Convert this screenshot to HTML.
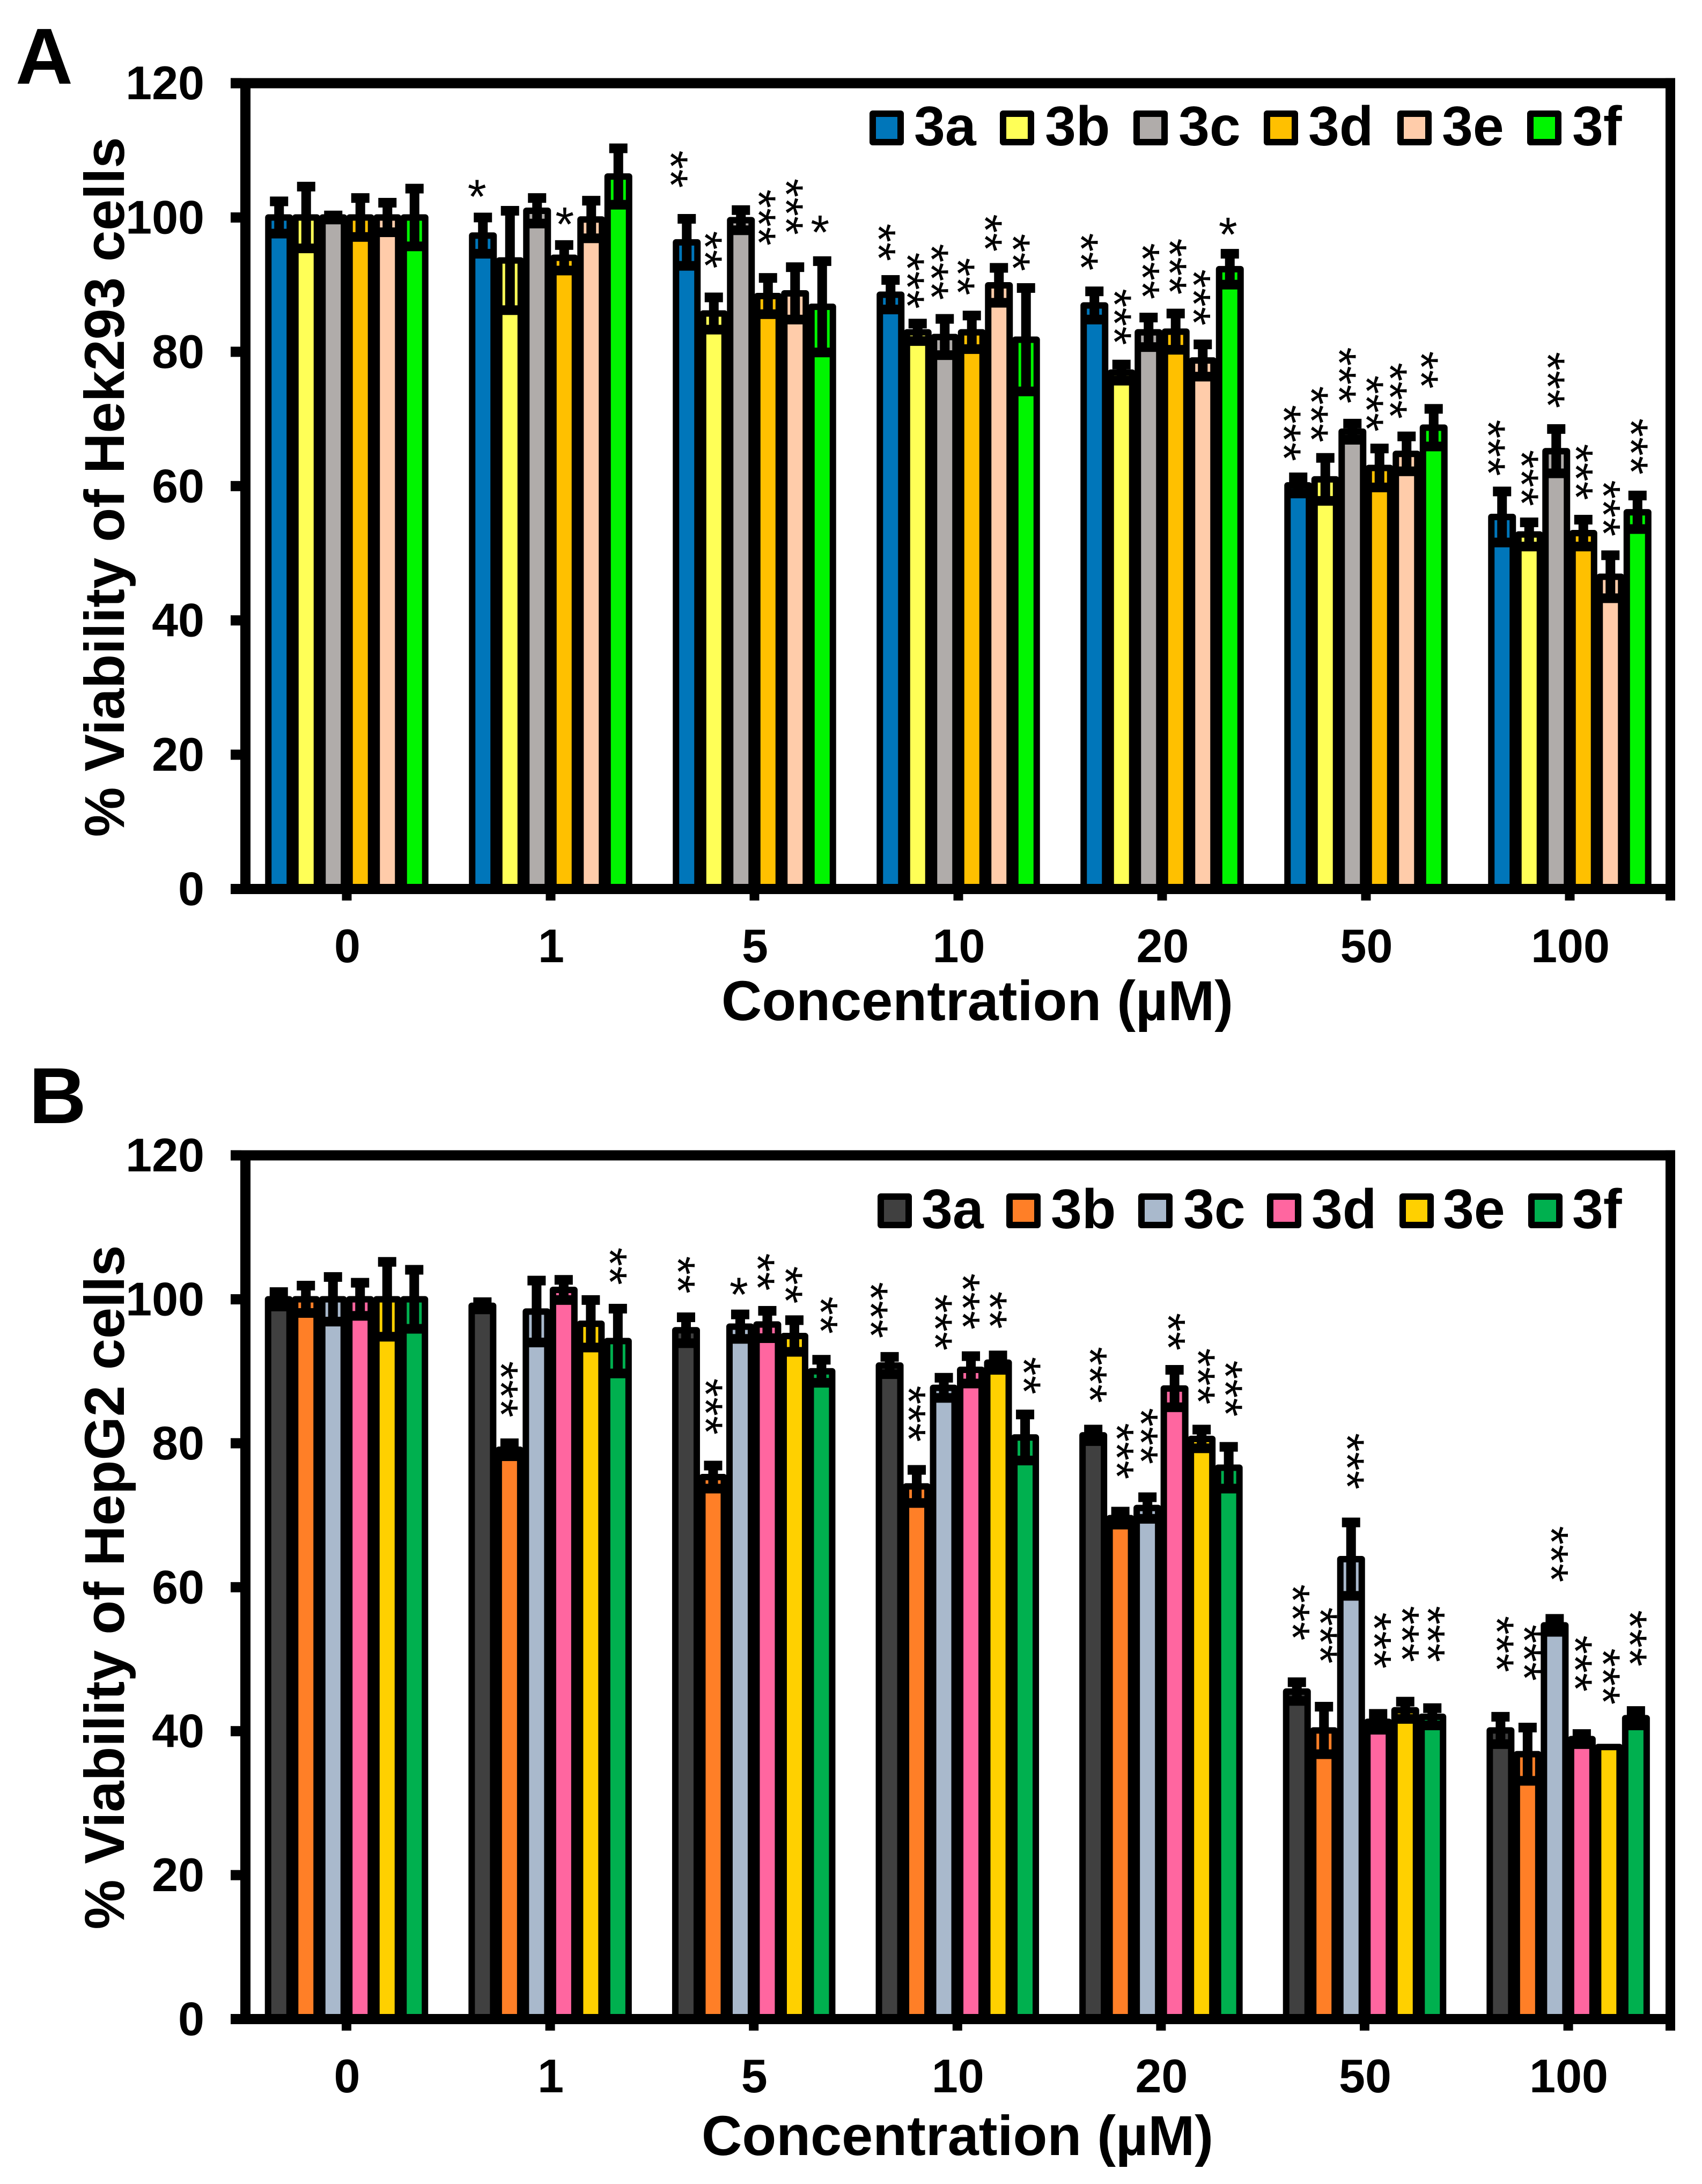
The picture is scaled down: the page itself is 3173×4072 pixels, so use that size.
<!DOCTYPE html>
<html lang="en">
<head>
<meta charset="utf-8">
<title>Cell viability of Hek293 and HepG2 cells</title>
<style>
html,body{margin:0;padding:0;background:#fff;}
svg{display:block;}
text{font-family:"Liberation Sans",Arial,sans-serif;fill:#000;}
.b{font-weight:700;}
.title{font-weight:700;font-size:104.5px;}
.legend-label{font-weight:700;font-size:104px;}
.letter{font-weight:700;font-size:148px;}
</style>
</head>
<body>
<svg id="figure" xmlns="http://www.w3.org/2000/svg" width="3173" height="4072" viewBox="0 0 3173 4072">
<rect x="0" y="0" width="3173" height="4072" fill="#fff"/>
<g id="panelA"></g>
<g id="panelB"></g>

<text class="letter" x="29" y="156">A</text>
<text class="letter" x="54" y="2094">B</text>

<text class="title" text-anchor="middle" transform="translate(231,908) rotate(-90)">% Viability of Hek293 cells</text>
<text class="title" text-anchor="middle" transform="translate(231,2959.5) rotate(-90)">% Viability of HepG2 cells</text>
<text class="title" text-anchor="middle" x="1822" y="1902">Concentration (µM)</text>
<text class="title" text-anchor="middle" x="1785" y="4018">Concentration (µM)</text>

<g stroke-linejoin="round">
<rect x="1627" y="212" width="52" height="53" fill="#0076BA" stroke="#000" stroke-width="12"/>
<text class="legend-label" x="1704" y="271">3a</text>
<rect x="1870" y="212" width="52" height="53" fill="#FFFF57" stroke="#000" stroke-width="12"/>
<text class="legend-label" x="1948" y="271">3b</text>
<rect x="2119" y="212" width="52" height="53" fill="#B0ACAA" stroke="#000" stroke-width="12"/>
<text class="legend-label" x="2197" y="271">3c</text>
<rect x="2362" y="212" width="52" height="53" fill="#FFC000" stroke="#000" stroke-width="12"/>
<text class="legend-label" x="2439" y="271">3d</text>
<rect x="2611" y="212" width="52" height="53" fill="#FFCCAA" stroke="#000" stroke-width="12"/>
<text class="legend-label" x="2688" y="271">3e</text>
<rect x="2853" y="212" width="52" height="53" fill="#00F500" stroke="#000" stroke-width="12"/>
<text class="legend-label" x="2931" y="271">3f</text>
</g>

<g stroke-linejoin="round">
<rect x="1642" y="2231" width="52" height="53" fill="#404040" stroke="#000" stroke-width="12"/>
<text class="legend-label" x="1718" y="2290">3a</text>
<rect x="1882" y="2231" width="52" height="53" fill="#FF7F27" stroke="#000" stroke-width="12"/>
<text class="legend-label" x="1959" y="2290">3b</text>
<rect x="2128" y="2231" width="52" height="53" fill="#A9B9CC" stroke="#000" stroke-width="12"/>
<text class="legend-label" x="2206" y="2290">3c</text>
<rect x="2368" y="2231" width="52" height="53" fill="#FF66A0" stroke="#000" stroke-width="12"/>
<text class="legend-label" x="2445" y="2290">3d</text>
<rect x="2615" y="2231" width="52" height="53" fill="#FFD000" stroke="#000" stroke-width="12"/>
<text class="legend-label" x="2690" y="2290">3e</text>
<rect x="2855" y="2231" width="52" height="53" fill="#00B04F" stroke="#000" stroke-width="12"/>
<text class="legend-label" x="2931" y="2290">3f</text>
</g>
</svg>

<script>
// Shared categories and ticks
const concentrations = ["0", "1", "5", "10", "20", "50", "100"];
const seriesNames = ["3a", "3b", "3c", "3d", "3e", "3f"];
const yTicks = [0, 20, 40, 60, 80, 100, 120];

// Panel A: Hek293 mean viability per compound
const hek3a = [100, 97.3, 96.3, 88.5, 86.9, 60.1, 55.4];
const hek3b = [100, 93.6, 85.7, 82.9, 76.9, 61, 52.8];
const hek3c = [100, 101, 99.6, 82.2, 82.9, 68.1, 65.2];
const hek3d = [100, 94, 88.3, 82.9, 83, 62.7, 53];
const hek3e = [100, 99.7, 88.7, 89.9, 78.7, 64.8, 46.5];
const hek3f = [100, 106.1, 86.7, 81.8, 92.3, 68.7, 56.1];

// Panel A: error values
const hek3aErr = [2.4, 2.7, 3.5, 2.2, 2.1, 1.2, 3.8];
const hek3bErr = [4.6, 7.4, 2.4, 1.3, 1.2, 3.2, 1.8];
const hek3cErr = [0.3, 1.9, 1.5, 2.7, 2.2, 1.2, 3.3];
const hek3dErr = [2.9, 1.9, 2.7, 2.5, 2.7, 2.9, 2];
const hek3eErr = [2.2, 2.8, 3.9, 2.6, 2.4, 2.6, 3.2];
const hek3fErr = [4.3, 4.2, 6.8, 7.7, 2.3, 2.8, 2.5];

// Panel A: number of significance asterisks
const hek3aStars = [0, 1, 2, 2, 2, 3, 3];
const hek3bStars = [0, 0, 2, 3, 3, 3, 3];
const hek3cStars = [0, 0, 0, 3, 3, 3, 3];
const hek3dStars = [0, 1, 3, 2, 3, 3, 3];
const hek3eStars = [0, 0, 3, 2, 3, 3, 3];
const hek3fStars = [0, 0, 1, 2, 1, 2, 3];

// Panel A: asterisk height above the error bar, in % viability units
const hek3aLift = [0, 4.3, 7.4, 5.6, 5.9, 6.6, 6.5];
const hek3bLift = [0, 0, 7.1, 6.4, 7.1, 6.5, 6.6];
const hek3cLift = [0, 0, 0, 7, 6.9, 7.2, 7.3];
const hek3dLift = [0, 4.3, 9, 5.8, 7, 6.7, 7.1];
const hek3eLift = [0, 0, 9, 5.2, 7, 6.8, 7];
const hek3fLift = [0, 0, 5.5, 5.3, 4.1, 5.8, 7.3];

// Panel A: sideways asterisk nudge, in fractions of a bar
const hek3aNudge = [0, -0.22, -0.3, -0.15, -0.2, -0.24, -0.22];
const hek3bNudge = [0, 0, -0.03, -0.09, 0.03, -0.23, 0.01];
const hek3cNudge = [0, 0, 0, -0.2, 0.07, -0.2, -0.02];
const hek3dNudge = [0, 0.02, -0.05, -0.23, 0.07, -0.19, 0.02];
const hek3eNudge = [0, 0, -0.04, -0.22, -0.05, -0.32, 0.03];
const hek3fNudge = [0, 0, -0.08, -0.19, -0.07, -0.17, 0.05];

// Panel B: HepG2 mean viability per compound
const hep3a = [100, 99.1, 95.7, 90.8, 81.1, 45.5, 40.1];
const hep3b = [100, 79.1, 75.3, 74, 69.6, 40.1, 36.8];
const hep3c = [100, 98.3, 96.2, 87.7, 71, 63.9, 54.7];
const hep3d = [100, 101.3, 96.5, 90.2, 87.6, 41.3, 38.9];
const hep3e = [100, 96.6, 94.9, 91.2, 80.6, 42.9, 37.8];
const hep3f = [100, 94.2, 90, 80.8, 76.6, 42, 41.8];

// Panel B: error values
const hep3aErr = [1, 0.5, 1.8, 1.2, 0.8, 1.3, 1.9];
const hep3bErr = [1.9, 0.9, 1.6, 2.3, 0.9, 3.3, 3.7];
const hep3cErr = [3.1, 4.3, 1.7, 1.4, 1.5, 5.1, 0.9];
const hep3dErr = [2.3, 1.4, 1.9, 1.9, 2.6, 1.1, 0.7];
const hep3eErr = [5.2, 3.3, 2.2, 1, 1.3, 1.2, 0];
const hep3fErr = [4.1, 4.5, 1.6, 3.2, 2.9, 1.2, 1];

// Panel B: number of significance asterisks
const hep3aStars = [0, 0, 2, 3, 3, 3, 3];
const hep3bStars = [0, 3, 3, 3, 3, 3, 3];
const hep3cStars = [0, 0, 1, 3, 3, 3, 3];
const hep3dStars = [0, 0, 2, 3, 2, 3, 3];
const hep3eStars = [0, 0, 2, 2, 3, 3, 3];
const hep3fStars = [0, 2, 2, 2, 3, 3, 3];

// Panel B: asterisk height above the error bar, in % viability units
const hep3aLift = [0, 0, 5.9, 6.5, 7.6, 9.7, 10.1];
const hep3bLift = [0, 7.5, 8.2, 7.8, 8.4, 9.9, 10.4];
const hep3cLift = [0, 0, 3.9, 7.7, 8.5, 8.5, 9];
const hep3dLift = [0, 0, 5.4, 7.6, 5.3, 10.2, 9.8];
const hep3eLift = [0, 0, 4.9, 6.3, 7.4, 9.4, 9.8];
const hep3fLift = [0, 5.9, 6.2, 5.4, 8.1, 10.3, 10.1];

// Panel B: sideways asterisk nudge, in fractions of a bar
const hep3aNudge = [0, 0, 0, -0.4, 0.18, 0.14, 0.16];
const hep3bNudge = [0, -0.02, 0.02, 0, 0.17, 0.16, 0.17];
const hep3cNudge = [0, 0, -0.05, -0.02, 0.06, 0.15, 0.17];
const hep3dNudge = [0, 0, -0.06, 0, 0.07, 0.15, 0.05];
const hep3eNudge = [0, 0, -0.03, 0, 0.17, 0.18, 0.08];
const hep3fNudge = [0, 0, 0.27, 0.25, 0.18, 0.13, 0.07];

const colorsA = ["#0076BA", "#FFFF57", "#B0ACAA", "#FFC000", "#FFCCAA", "#00F500"];
const colorsB = ["#404040", "#FF7F27", "#A9B9CC", "#FF66A0", "#FFD000", "#00B04F"];

const NS = "http://www.w3.org/2000/svg";

function make(tag, parent, attrs) {
  const el = document.createElementNS(NS, tag);
  for (const k in attrs) el.setAttribute(k, attrs[k]);
  parent.appendChild(el);
  return el;
}

function drawPanel(cfg) {
  const root = cfg.root;
  const yScale = function (v) { return cfg.yZero - v * cfg.unit; };
  const xScale = function (i) { return cfg.xFirst + i * cfg.xStep; };
  const barX = function (i, s) { return xScale(i) + (s - 2.5) * 50.5; };

  // bars
  const barLayer = make("g", root, { "stroke-linejoin": "round" });
  
  
  cfg.means.forEach(function (series, s) {
    series.forEach(function (v, i) {
      const cx = barX(i, s);
      const bar = make("rect", barLayer, {
        x: cx - 20, y: yScale(v), width: 40, height: cfg.yZero - yScale(v),
        fill: cfg.colors[s], stroke: "#000", "stroke-width": 12
      });
      
      
    });
  });

  // error bars
  const errLayer = make("g", root, { fill: "#000" });
  
  
  cfg.errs.forEach(function (series, s) {
    series.forEach(function (e, i) {
      if (e <= 0) return;
      const cx = barX(i, s);
      const v = cfg.means[s][i];
      const hi = yScale(v + e);
      const lo = yScale(v - e);
      const g = make("g", errLayer, {});
      
      
      make("rect", g, { x: cx - 9, y: hi, width: 18, height: lo - hi });
      make("rect", g, { x: cx - 17, y: hi - 9, width: 34, height: 18 });
      make("rect", g, { x: cx - 17, y: lo - 9, width: 34, height: 18 });
    });
  });

  // significance asterisks
  const starLayer = make("g", root, {});
  
  
  cfg.stars.forEach(function (series, s) {
    series.forEach(function (n, i) {
      if (!n) return;
      const cx = barX(i, s) + cfg.nudges[s][i] * 50;
      const cy = yScale(cfg.means[s][i] + cfg.errs[s][i] + cfg.lifts[s][i]);
      const t = make("text", starLayer, {
        x: 0, y: 46, "text-anchor": "middle", "font-size": 90,
        transform: "translate(" + cx + "," + cy + ")" + (n > 1 ? " rotate(90)" : "")
      });
      
      
      t.textContent = "*".repeat(n);
    });
  });

  // axes and frame
  const axes = make("g", root, { fill: "#000" });
  
  
  const top = cfg.yZero - 120 * cfg.unit;
  make("rect", axes, { x: 430, y: top - 9.5, width: 2693, height: 19 });
  make("rect", axes, { x: 430, y: cfg.yZero - 9.5, width: 2693, height: 19 });
  make("rect", axes, { x: 448, y: top, width: 19, height: cfg.yZero - top });
  make("rect", axes, { x: 3105, y: top - 9.5, width: 18, height: cfg.yZero - top + 31 });

  // y ticks
  yTicks.forEach(function (t) {
    const y = yScale(t);
    const mark = make("rect", axes, { x: 430, y: y - 9.5, width: 20, height: 19 });
    
    
    const label = make("text", root, { x: 381, y: y + 30, "text-anchor": "end", "font-size": 88, "font-weight": 700 });
    
    
    label.textContent = String(t);
  });

  // x ticks
  concentrations.forEach(function (c, i) {
    const x = xScale(i);
    const mark = make("rect", axes, { x: x - 9, y: cfg.yZero, width: 18, height: 21.5 });
    
    
    const label = make("text", root, { x: x + 1, y: cfg.xLabelY, "text-anchor": "middle", "font-size": 88, "font-weight": 700 });
    
    
    label.textContent = c;
  });
}

drawPanel({
  root: document.getElementById("panelA"),
  yZero: 1657.5, unit: 12.52, xFirst: 646.5, xStep: 380, xLabelY: 1794,
  colors: colorsA,
  means: [hek3a, hek3b, hek3c, hek3d, hek3e, hek3f],
  errs: [hek3aErr, hek3bErr, hek3cErr, hek3dErr, hek3eErr, hek3fErr],
  stars: [hek3aStars, hek3bStars, hek3cStars, hek3dStars, hek3eStars, hek3fStars],
  lifts: [hek3aLift, hek3bLift, hek3cLift, hek3dLift, hek3eLift, hek3fLift],
  nudges: [hek3aNudge, hek3bNudge, hek3cNudge, hek3dNudge, hek3eNudge, hek3fNudge]
});

drawPanel({
  root: document.getElementById("panelB"),
  yZero: 3764.5, unit: 13.42, xFirst: 646, xStep: 379.6, xLabelY: 3901,
  colors: colorsB,
  means: [hep3a, hep3b, hep3c, hep3d, hep3e, hep3f],
  errs: [hep3aErr, hep3bErr, hep3cErr, hep3dErr, hep3eErr, hep3fErr],
  stars: [hep3aStars, hep3bStars, hep3cStars, hep3dStars, hep3eStars, hep3fStars],
  lifts: [hep3aLift, hep3bLift, hep3cLift, hep3dLift, hep3eLift, hep3fLift],
  nudges: [hep3aNudge, hep3bNudge, hep3cNudge, hep3dNudge, hep3eNudge, hep3fNudge]
});
</script>
</body>
</html>
